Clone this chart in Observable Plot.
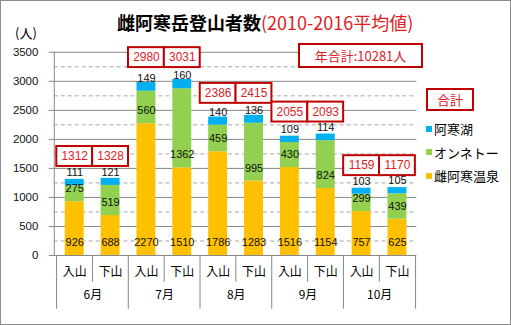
<!DOCTYPE html>
<html><head><meta charset="utf-8">
<script src="https://cdn.jsdelivr.net/npm/d3@7"></script>
<script src="https://cdn.jsdelivr.net/npm/@observablehq/plot@0.6"></script>
<style>
body{margin:0;background:#fff;}
#wrap{position:relative;width:511px;height:325px;box-sizing:border-box;border:1px solid #8c8c8c;font-family:"Noto Sans CJK JP",sans-serif;overflow:hidden;background:#fff}
#chart svg{position:absolute;left:-1px;top:-1px;overflow:visible}
.abs{position:absolute;white-space:nowrap;line-height:1}
#title{left:116px;top:12px;font-size:18px;color:#000;font-weight:700}
#title span{color:#e0201f;font-weight:400;font-family:"Noto Sans CJK JP",sans-serif}
#unit{left:14px;top:25px;font-size:13px}
#annual{left:297px;top:42px;width:121px;height:21px;border:2px solid #c00000;background:#fff;color:#e0201f;font-size:13px;display:flex;align-items:center;justify-content:center}
#legTot{left:425px;top:87px;width:44px;height:19px;border:2px solid #c00000;background:#fff;color:#e0201f;font-size:13px;display:flex;align-items:center;justify-content:center}
.leg{font-size:13px;display:flex;align-items:center;left:425px}
.leg i{display:inline-block;width:6px;height:6px;margin-right:2px}
</style></head>
<body>
<div id="wrap">
  <div id="chart"></div>
  <div class="abs" id="title">雌阿寒岳登山者数<span>(2010-2016平均値)</span></div>
  <div class="abs" id="unit">(人)</div>
  <div class="abs" id="annual"></div>
  <div class="abs" id="legTot">合計</div>
  <div id="legend"></div>
</div>
<script>
const months = ["6月","7月","8月","9月","10月"];
const directions = ["入山","下山"];
const seriesNames = ["雌阿寒温泉","オンネトー","阿寒湖"];
const seriesColors = ["#ffc000","#92d050","#00b0f0"];
const onsen  = [926, 688, 2270, 1510, 1786, 1283, 1516, 1154, 757, 625];
const onneto = [275, 519, 560, 1362, 459, 995, 430, 824, 299, 439];
const akanko = [111, 121, 149, 160, 140, 136, 109, 114, 103, 105];
const totals = [1312, 1328, 2980, 3031, 2386, 2415, 2055, 2093, 1159, 1170];
const annualTotal = "年合計:10281人";
const majorTicks = [0, 500, 1000, 1500, 2000, 2500, 3000, 3500];
const minorTicks = [250, 750, 1250, 1750, 2250, 2750, 3250];

const W = 511, H = 325;
const mL = 54, mR = 93, mT = 52, mB = 69;
const step = (W - mL - mR) / (months.length * directions.length);

const cats = [];
months.forEach(m => directions.forEach(d => cats.push({key: m + d, month: m, dir: d})));
const seriesValues = [onsen, onneto, akanko];
const rows = [];
seriesNames.forEach((s, si) => cats.forEach((c, ci) => rows.push({cat: c.key, series: s, value: seriesValues[si][ci]})));
const totRows = cats.map((c, i) => {
  const mi = months.indexOf(c.month);
  const monthMax = Math.max(totals[mi * 2], totals[mi * 2 + 1]);
  return {cat: c.key, total: totals[i], monthMax};
});
const firstOfMonth = cats.filter(c => c.dir === directions[0]);
const secondOfMonth = cats.filter(c => c.dir === directions[1]);

const chart = Plot.plot({
  width: W, height: H,
  marginLeft: mL, marginRight: mR, marginTop: mT, marginBottom: mB,
  style: {fontFamily: "'Noto Sans CJK JP', sans-serif", background: "transparent"},
  x: {domain: cats.map(c => c.key), paddingInner: 0.48, paddingOuter: 0.24, axis: null},
  y: {domain: [0, 3500], axis: null},
  color: {domain: seriesNames, range: seriesColors},
  marks: [
    Plot.ruleY(minorTicks, {stroke: "#a6a6a6", strokeDasharray: "4,3"}),
    Plot.ruleY(majorTicks, {stroke: "#868686", insetLeft: -5}),
    Plot.barY(rows, {x: "cat", y: "value", fill: "series", z: "series"}),
    Plot.text(rows, Plot.stackY1({x: "cat", y: "value", z: "series", text: d => String(d.value), dy: -13, fontSize: 11, fill: "#111", fontFamily: "'Liberation Sans', sans-serif"})),
    Plot.barY(totRows, {x: "cat", y1: "monthMax", y2: "monthMax", insetTop: -32, insetBottom: 12, insetLeft: -8.5, insetRight: -8.5, fill: "white", stroke: "#c00000", strokeWidth: 2}),
    Plot.text(totRows, {x: "cat", y: "monthMax", text: d => String(d.total), dy: -22, fill: "#e0201f", fontSize: 12, fontFamily: "'Liberation Sans', sans-serif"}),
    Plot.frame({anchor: "left", stroke: "#868686"}),
    Plot.axisY(majorTicks, {tickSize: 0, tickPadding: 16, fontSize: 11.5, label: null, tickFormat: d => String(d), fontFamily: "'Liberation Sans', sans-serif", fill: "#111"}),
    Plot.axisX({tickSize: 0, tickPadding: 12, fontSize: 12, label: null, tickFormat: d => d.slice(-2)}),
    Plot.ruleX(secondOfMonth, {x: "key", dx: -step / 2, insetTop: H - mT - mB, insetBottom: -27, stroke: "#868686"}),
    Plot.ruleX(firstOfMonth, {x: "key", dx: -step / 2, insetTop: H - mT - mB, insetBottom: -54, stroke: "#868686"}),
    Plot.ruleX([cats[cats.length - 1]], {x: "key", dx: step / 2, insetTop: H - mT - mB, insetBottom: -54, stroke: "#868686"}),
    Plot.text(firstOfMonth, {x: "key", dx: step / 2, frameAnchor: "bottom", dy: 44, text: "month", fontSize: 12})
  ]
});
document.getElementById("chart").appendChild(chart);
document.getElementById("annual").textContent = annualTotal;

const legend = document.getElementById("legend");
const legendOrder = [2, 1, 0];
legendOrder.forEach((si, k) => {
  const div = document.createElement("div");
  div.className = "abs leg";
  div.style.top = (121 + k * 23.5) + "px";
  div.innerHTML = `<i style="background:${seriesColors[si]}"></i>${seriesNames[si]}`;
  legend.appendChild(div);
});
</script>
</body></html>
